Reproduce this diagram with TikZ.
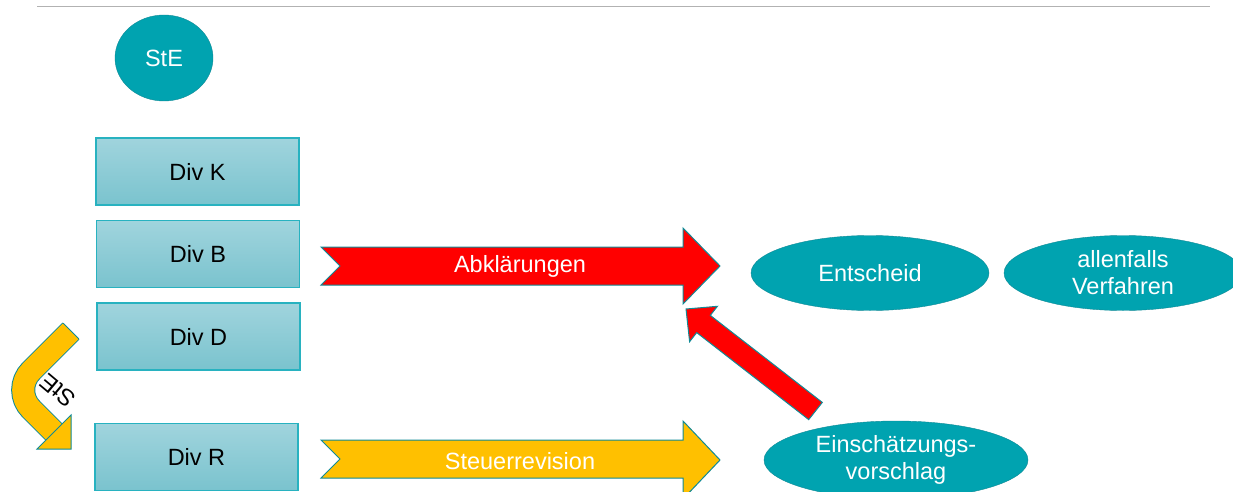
\documentclass[tikz,border=0pt]{standalone}
\usepackage{fontspec}
\setmainfont{Liberation Sans}
\usetikzlibrary{shapes.geometric}
\definecolor{petrol}{RGB}{0,163,176}
\definecolor{petrolrand}{RGB}{16,138,150}
\definecolor{hellpetrolo}{RGB}{160,212,221}
\definecolor{hellpetrolu}{RGB}{122,195,206}
\definecolor{kastenrand}{RGB}{40,178,192}
\definecolor{gelb}{RGB}{255,192,0}

\begin{document}
\begin{tikzpicture}[x=1pt,y=-1pt,
	every node/.style={font=\fontsize{23.5}{27}\selectfont},
	kasten/.style={draw=kastenrand,line width=1.2pt,top color=hellpetrolo,bottom color=hellpetrolu,
		minimum width=203pt,minimum height=67pt,inner sep=0pt},
	oval/.style={ellipse,draw=petrolrand,fill=petrol,text=white,inner sep=0pt,align=center},
	pfeil/.style={draw=petrolrand,line width=1pt,line join=miter}]
	\useasboundingbox (0,0) rectangle (1233,492);
	% Linie oben
	\draw[gray!60,line width=1pt] (37,7) -- (1210,7);
	
	% Kreis
	\node[oval,minimum width=98pt,minimum height=86pt] (ste) at (164,58) {StE};
	
	% Divisionen
	\node[kasten] (divk) at (197.5,171.5) {Div K};
	\node[kasten] (divb) at (198,254) {Div B};
	\node[kasten] (divd) at (198.5,336.5) {Div D};
	\node[kasten] (divr) at (196.5,457) {Div R};
	
	% Ovale rechts
	\node[oval,minimum width=238pt,minimum height=75pt] (entscheid) at (870,273) {Entscheid};
	\node[oval,minimum width=238pt,minimum height=75pt] (verfahren) at (1123,273) {allenfalls\\Verfahren};
	\node[oval,minimum width=264pt,minimum height=78pt] (vorschlag) at (896,460) {Einsch\"atzungs-\\vorschlag};
	
	% Pfeil Abklaerungen
	\fill[red] (321,247) -- (683,247) -- (683,228) -- (720,266) -- (683,304) -- (683,285) -- (321,285) -- (340,266) -- cycle;
	\draw[pfeil] (321,247) -- (683,247) -- (683,228) -- (720,266) -- (683,304) -- (683,285) -- (321,285) -- (340,266) -- cycle;
	\node[text=white] (abkl) at (520,266) {Abkl\"arungen};
	
	% Pfeil Steuerrevision
	\filldraw[pfeil,fill=gelb] (321,440) -- (683,440) -- (683,421) -- (720,460) -- (683,499) -- (683,478) -- (321,478) -- (340,459) -- cycle;
	\node[text=white] (rev) at (520,461) {Steuerrevision};
	
	% Pfeil schraeg zurueck
	\filldraw[pfeil,fill=red] (822.3,402.4) -- (710.3,315.4) -- (717.4,306.3) -- (686,309) -- (689.6,341.7) -- (696.7,332.6) -- (808.7,419.6) -- cycle;
	
	% gebogener Pfeil links
	\draw[petrolrand,line width=24pt,rounded corners=27pt] (71,331) -- (12,390) -- (54.5,432.5);
	\draw[gelb,line width=22pt,rounded corners=27pt] (71,331) -- (12,390) -- (54.5,432.5);
	\draw[petrolrand,line width=1pt] (63.2,323.2) -- (78.8,338.8);
	\filldraw[pfeil,fill=gelb] (71,415) -- (71,449) -- (37,449) -- cycle;
	\node[fill=white,rotate=140,inner sep=1pt] (stelabel) at (58,391) {StE};
\end{tikzpicture}
\end{document}
